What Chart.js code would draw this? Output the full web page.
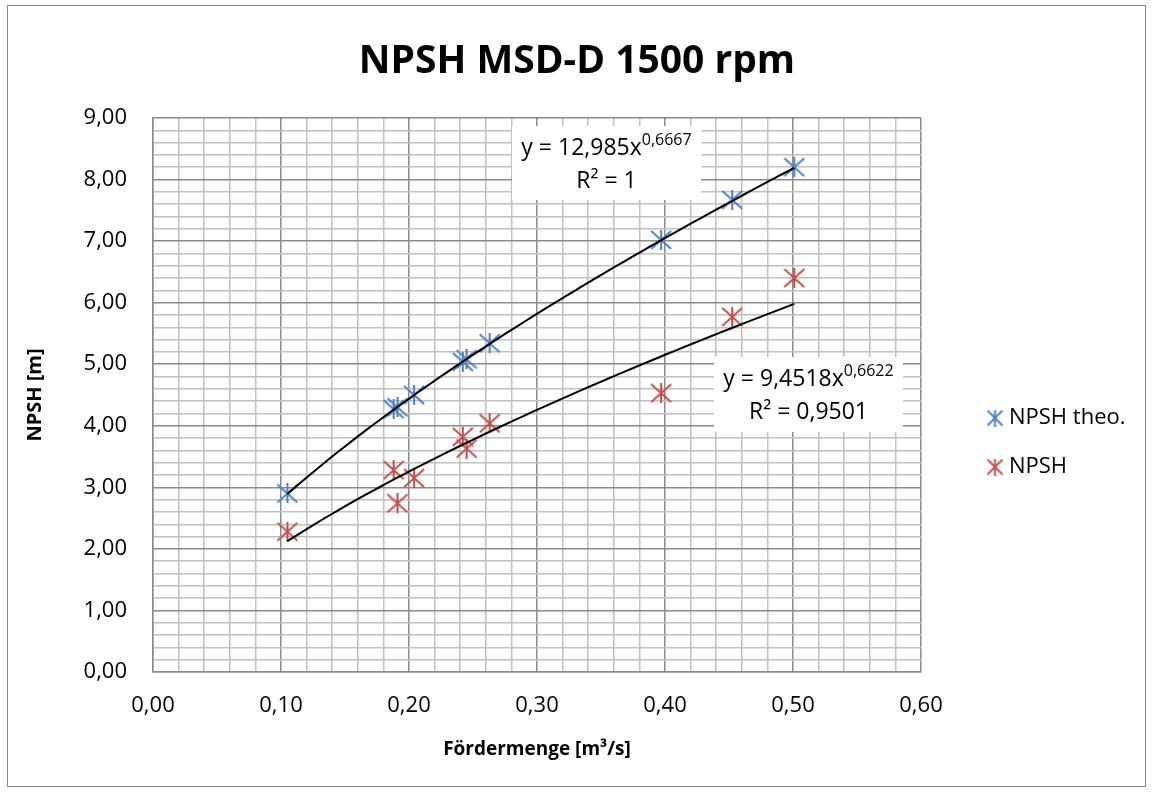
<!DOCTYPE html>
<html lang="de">
<head>
<meta charset="UTF-8">
<title>NPSH MSD-D 1500 rpm</title>
<script src="https://cdn.jsdelivr.net/npm/chart.js"></script>
<style>
  body { margin: 0; background: #fff; }
  #wrap { width: 1152px; height: 792px; }
</style>
</head>
<body>
<div id="wrap"><canvas id="npsh" width="1152" height="792"></canvas></div>
<script>
// Messpunkte
const foerdermenge = [0.105, 0.188, 0.191, 0.204, 0.242, 0.245, 0.263, 0.397, 0.4525, 0.501]; // m³/s
const npshTheo = [2.90, 4.27, 4.30, 4.50, 5.04, 5.08, 5.34, 7.02, 7.67, 8.20]; // m
const npshMess = [2.28, 3.28, 2.74, 3.15, 3.82, 3.63, 4.04, 4.53, 5.77, 6.40]; // m

// Potenz-Trendlinien y = a * x^b (wie im Diagramm angegeben)
const trendKoeff = [12.985, 9.4518];
const trendExp = [0.6667, 0.6622];
const trendR2 = ['1', '0,9501'];

const serienNamen = ['NPSH theo.', 'NPSH'];
const serienFarben = ['#4F81BD', '#C0504D'];

// Achsen
const xAchse = { min: 0, max: 0.6, haupt: 0.1, neben: 0.02 };
const yAchse = { min: 0, max: 9, haupt: 1, neben: 0.2 };

const schrift = "'Open Sans', sans-serif";
const hauptGitter = '#8a8a8a';
const nebenGitter = '#c0c0c0';

function komma(v, n) {
    return v.toFixed(n).replace('.', ',');
}

function istHaupt(v, schritt) {
    const q = v / schritt;
    return Math.abs(q - Math.round(q)) < 1e-6;
}

// Excel-Stern: X mit senkrechtem Strich
function sternMarker(farbe, w, h) {
    const c = document.createElement('canvas');
    c.width = w + 2;
    c.height = h + 2;
    const g = c.getContext('2d');
    g.strokeStyle = farbe;
    g.lineWidth = 2;
    g.beginPath();
    g.moveTo(1, 1); g.lineTo(w + 1, h + 1);
    g.moveTo(w + 1, 1); g.lineTo(1, h + 1);
    g.moveTo(c.width / 2, 0); g.lineTo(c.width / 2, c.height);
    g.stroke();
    return c;
}

const marker = serienFarben.map(f => sternMarker(f, 20, 18));
const legendMarker = serienFarben.map(f => sternMarker(f, 15, 15));

function trendPunkte(i) {
    const xmin = Math.min(...foerdermenge);
    const xmax = Math.max(...foerdermenge);
    const pts = [];
    for (let k = 0; k <= 60; k++) {
        const x = xmin + (xmax - xmin) * k / 60;
        pts.push({ x: x, y: trendKoeff[i] * Math.pow(x, trendExp[i]) });
    }
    return pts;
}

const datensaetze = [];
for (let i = 0; i < 2; i++) {
    datensaetze.push({
        label: 'Potenz (' + serienNamen[i] + ')',
        data: trendPunkte(i),
        showLine: true,
        borderColor: '#000',
        borderWidth: 2,
        pointRadius: 0,
        fill: false,
        order: 0
    });
}
const werte = [npshTheo, npshMess];
for (let i = 0; i < 2; i++) {
    datensaetze.push({
        label: serienNamen[i],
        data: foerdermenge.map((x, k) => ({ x: x, y: werte[i][k] })),
        pointStyle: marker[i],
        pointRadius: 10,
        showLine: false,
        order: 1
    });
}

// Rahmen, Titel, Legende und Trendlinien-Beschriftung
const extras = {
    id: 'extras',
    beforeDraw(chart) {
        const ctx = chart.ctx;
        ctx.save();
        ctx.fillStyle = '#fff';
        ctx.fillRect(0, 0, chart.width, chart.height);
        ctx.strokeStyle = '#868686';
        ctx.lineWidth = 1;
        ctx.strokeRect(7.5, 5.5, 1138, 781);
        ctx.fillStyle = '#000';
        ctx.font = 'bold 39px ' + schrift;
        ctx.textAlign = 'center';
        ctx.textBaseline = 'middle';
        ctx.fillText('NPSH MSD-D 1500 rpm', 577, 62);
        ctx.restore();
    },
    afterDatasetsDraw(chart) {
        const ctx = chart.ctx;
        ctx.save();
        // Legende
        ctx.font = '22px ' + schrift;
        ctx.textBaseline = 'middle';
        ctx.textAlign = 'left';
        ctx.fillStyle = '#000';
        const ly = [418, 467];
        for (let i = 0; i < 2; i++) {
            const m = legendMarker[i];
            ctx.drawImage(m, 995 - m.width / 2, ly[i] - m.height / 2);
            ctx.fillText(serienNamen[i], 1009, ly[i]);
        }
        // Gleichungen
        const boxen = [
            { x: 512, y: 126, w: 189, h: 74 },
            { x: 714, y: 357, w: 189, h: 75 }
        ];
        for (let i = 0; i < 2; i++) {
            const b = boxen[i];
            ctx.fillStyle = '#fff';
            ctx.fillRect(b.x, b.y, b.w, b.h);
            ctx.fillStyle = '#000';
            const haupt = 'y = ' + komma(trendKoeff[i], String(trendKoeff[i]).split('.')[1].length) + 'x';
            const hoch = komma(trendExp[i], 4);
            ctx.font = '23px ' + schrift;
            const w1 = ctx.measureText(haupt).width;
            ctx.font = '16px ' + schrift;
            const w2 = ctx.measureText(hoch).width;
            const x0 = b.x + b.w / 2 - (w1 + w2) / 2;
            const cy = b.y + 22;
            ctx.textAlign = 'left';
            ctx.font = '23px ' + schrift;
            ctx.fillText(haupt, x0, cy);
            ctx.font = '16px ' + schrift;
            ctx.fillText(hoch, x0 + w1, cy - 8);
            ctx.font = '23px ' + schrift;
            ctx.textAlign = 'center';
            ctx.fillText('R² = ' + trendR2[i], b.x + b.w / 2, b.y + 55);
        }
        ctx.restore();
    }
};

function gitterFarbe(schritt) {
    return c => (c.tick && istHaupt(c.tick.value, schritt)) ? hauptGitter : nebenGitter;
}

new Chart(document.getElementById('npsh'), {
    type: 'scatter',
    data: { datasets: datensaetze },
    options: {
        responsive: false,
        animation: false,
        devicePixelRatio: 1,
        layout: { padding: { left: 23, top: 118, right: 231, bottom: 31 } },
        plugins: {
            legend: { display: false },
            title: { display: false },
            tooltip: { enabled: false }
        },
        scales: {
            x: {
                type: 'linear',
                min: xAchse.min,
                max: xAchse.max,
                afterFit(s) { s.height = 89; },
                border: { display: true, color: hauptGitter, width: 1.5 },
                grid: { color: gitterFarbe(xAchse.haupt), lineWidth: 1.5, drawTicks: false },
                ticks: {
                    stepSize: xAchse.neben,
                    autoSkip: false,
                    maxRotation: 0,
                    minRotation: 0,
                    padding: 21,
                    color: '#000',
                    font: { family: schrift, size: 22 },
                    callback: v => istHaupt(v, xAchse.haupt) ? komma(v, 2) : ''
                },
                title: {
                    display: true,
                    text: 'Fördermenge [m³/s]',
                    color: '#000',
                    padding: 0,
                    font: { family: schrift, size: 19, weight: 'bold' }
                }
            },
            y: {
                type: 'linear',
                min: yAchse.min,
                max: yAchse.max,
                afterFit(s) { s.width = 130; },
                border: { display: true, color: hauptGitter, width: 1.5 },
                grid: { color: gitterFarbe(yAchse.haupt), lineWidth: 1.5, drawTicks: false },
                ticks: {
                    stepSize: yAchse.neben,
                    autoSkip: false,
                    padding: 26,
                    color: '#000',
                    font: { family: schrift, size: 22 },
                    callback: v => istHaupt(v, yAchse.haupt) ? komma(v, 2) : ''
                },
                title: {
                    display: true,
                    text: 'NPSH [m]',
                    color: '#000',
                    padding: 0,
                    font: { family: schrift, size: 20, weight: 'bold' }
                }
            }
        }
    },
    plugins: [extras]
});
</script>
</body>
</html>
